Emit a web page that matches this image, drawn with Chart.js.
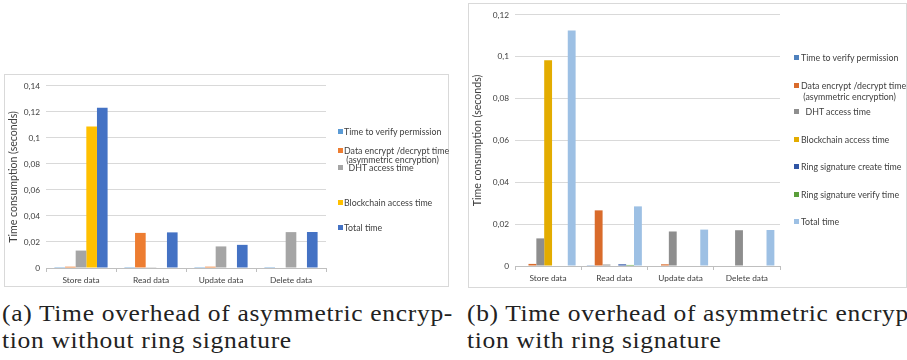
<!doctype html>
<html lang="en">
<head>
<meta charset="utf-8">
<title>Time overhead of asymmetric encryption</title>
<style>
  * { margin: 0; padding: 0; }
  body { width: 907px; height: 360px; background: #fff; position: relative; overflow: hidden; font-family: Lato, sans-serif; }
  .box { position: absolute; border: 1px solid #d9d9d9; box-sizing: border-box; }
  .box canvas { position: absolute; left: 0; top: 0; }
  .item { position: absolute; white-space: pre; color: #404040; font-size: 8.8px; }
  .item i { position: absolute; width: 5px; height: 5px; }
  .caption { position: absolute; font-family: "Liberation Serif", "Times New Roman", serif; font-size: 24px; line-height: 27px; color: #222; white-space: nowrap; transform-origin: left top; }
  .caption span { display: block; }
</style>
</head>
<body>
  <div class="box" style="left:4px; top:74px; width:445px; height:213px;">
    <canvas id="chartA" width="444" height="212"></canvas>
  </div>
  <div class="box" style="left:468px; top:3px; width:439px; height:285px;">
    <canvas id="chartB" width="438" height="284"></canvas>
  </div>
  <div id="legendA"></div>
  <div id="legendB"></div>
  <div class="caption" style="left:2px; top:300px;">
    <span class="first">(a) Time overhead of asymmetric encryp-</span>
    <span>tion without ring signature</span>
  </div>
  <div class="caption" style="left:467px; top:300px;">
    <span class="first">(b) Time overhead of asymmetric encryp-</span>
    <span>tion with ring signature</span>
  </div>

  <script src="https://cdn.jsdelivr.net/npm/chart.js/dist/chart.umd.min.js"></script>
  <script>
    const categories = ['Store data', 'Read data', 'Update data', 'Delete data'];

    // (a) asymmetric encryption without ring signature
    const labelsA = ['Time to verify permission', 'Data encrypt /decrypt time\n (asymmetric encryption)', '  DHT access time', 'Blockchain access time', 'Total time'];
    const verifyA = [0.0001, 0.0001, 0.0001, 0.0001];
    const encryptA = [0.001, 0.027, 0.001, 0];
    const dhtA = [0.0134, 0.0006, 0.0166, 0.0276];
    const blockchainA = [0.1088, 0, 0, 0];
    const totalA = [0.1233, 0.0274, 0.0178, 0.0277];
    const colorsA = ['#5b9bd5', '#ed7d31', '#a5a5a5', '#ffc000', '#4472c4'];

    // (b) asymmetric encryption with ring signature
    const labelsB = ['Time to verify permission', 'Data encrypt /decrypt time\n (asymmetric encryption)', '  DHT access time', 'Blockchain access time', 'Ring signature create time', 'Ring signature verify time', 'Total time'];
    const verifyB = [0, 0.0001, 0, 0];
    const encryptB = [0.001, 0.0266, 0.0008, 0];
    const dhtB = [0.0132, 0.0007, 0.0165, 0.0171];
    const blockchainB = [0.0983, 0, 0, 0];
    const ringCreateB = [0, 0.0008, 0, 0];
    const ringVerifyB = [0, 0.0005, 0, 0];
    const totalB = [0.1126, 0.0285, 0.0174, 0.0172];
    const colorsB = ['#4f81bd', '#d96b2b', '#8e8e8e', '#e3ac00', '#2f55a4', '#5a9e3a', '#9dc0e4'];

    const yTicksA = { max: 0.14, step: 0.02 };
    const yTicksB = { max: 0.12, step: 0.02 };

    const fmt = v => v === 0 ? '0' : String(+v.toFixed(2)).replace('.', ',');

    function makeChart(id, labels, series, colors, yt, lay) {
      return new Chart(document.getElementById(id), {
        type: 'bar',
        data: {
          labels: categories,
          datasets: series.map((d, i) => ({
            label: labels[i],
            data: d,
            backgroundColor: colors[i],
            borderWidth: 0
          }))
        },
        options: {
          responsive: false,
          animation: false,
          categoryPercentage: lay.catPct,
          barPercentage: 1,
          layout: { padding: { top: lay.top, right: lay.right, left: 0, bottom: 0 } },
          plugins: { legend: { display: false }, tooltip: { enabled: false } },
          scales: {
            x: {
              grid: { drawOnChartArea: false, tickLength: 4, color: '#bfbfbf', offset: true },
              border: { color: '#bfbfbf' },
              ticks: { color: '#404040', font: { family: 'Lato', size: 8.3 }, padding: 3 },
              afterFit: s => { s.height = lay.xh; }
            },
            y: {
              min: 0, max: yt.max,
              ticks: { stepSize: yt.step, color: '#404040', font: { family: 'Lato', size: 8.3 }, padding: 6, callback: fmt },
              grid: { color: '#d9d9d9', drawTicks: false },
              border: { display: false },
              title: { display: true, text: 'Time consumption (seconds)', color: '#404040', font: { family: 'Lato', size: 10.6 }, padding: { top: 2, bottom: 2 } },
              afterFit: s => { s.width = lay.yw; }
            }
          }
        }
      });
    }

    makeChart('chartA', labelsA, [verifyA, encryptA, dhtA, blockchainA, totalA], colorsA, yTicksA,
      { catPct: 0.76, top: 10, right: 123, xh: 19, yw: 41 });
    makeChart('chartB', labelsB, [verifyB, encryptB, dhtB, blockchainB, ringCreateB, ringVerifyB, totalB], colorsB, yTicksB,
      { catPct: 0.83, top: 10, right: 127, xh: 22, yw: 46 });

    // legends placed like the spreadsheet export
    function legend(id, labels, colors, sqX, txtX, ys, lh) {
      const host = document.getElementById(id);
      labels.forEach((t, i) => {
        const d = document.createElement('div');
        d.className = 'item';
        d.style.left = txtX + 'px';
        d.style.top = (ys[i] - lh / 2) + 'px';
        d.style.lineHeight = lh + 'px';
        d.textContent = t;
        const sq = document.createElement('i');
        sq.style.background = colors[i];
        sq.style.left = (sqX - txtX) + 'px';
        sq.style.top = (lh / 2 - 2.5) + 'px';
        d.appendChild(sq);
        host.appendChild(d);
      });
    }
    legend('legendA', labelsA, colorsA, 338, 344, [131, 150, 167, 202, 227], 9);
    legend('legendB', labelsB, colorsB, 794, 801, [57.7, 85, 111.7, 139, 166.7, 194, 221], 11);

    // widen captions to the typeset line width: part stretch, part spacing
    document.querySelectorAll('.caption').forEach(c => {
      const first = c.querySelector('.first');
      const w = first.getBoundingClientRect().width;
      const n = first.textContent.length;
      const k = Math.sqrt(451 / w);
      c.style.transform = 'scaleX(' + k + ')';
      c.style.letterSpacing = ((451 / k - w) / n) + 'px';
    });
  </script>
</body>
</html>
